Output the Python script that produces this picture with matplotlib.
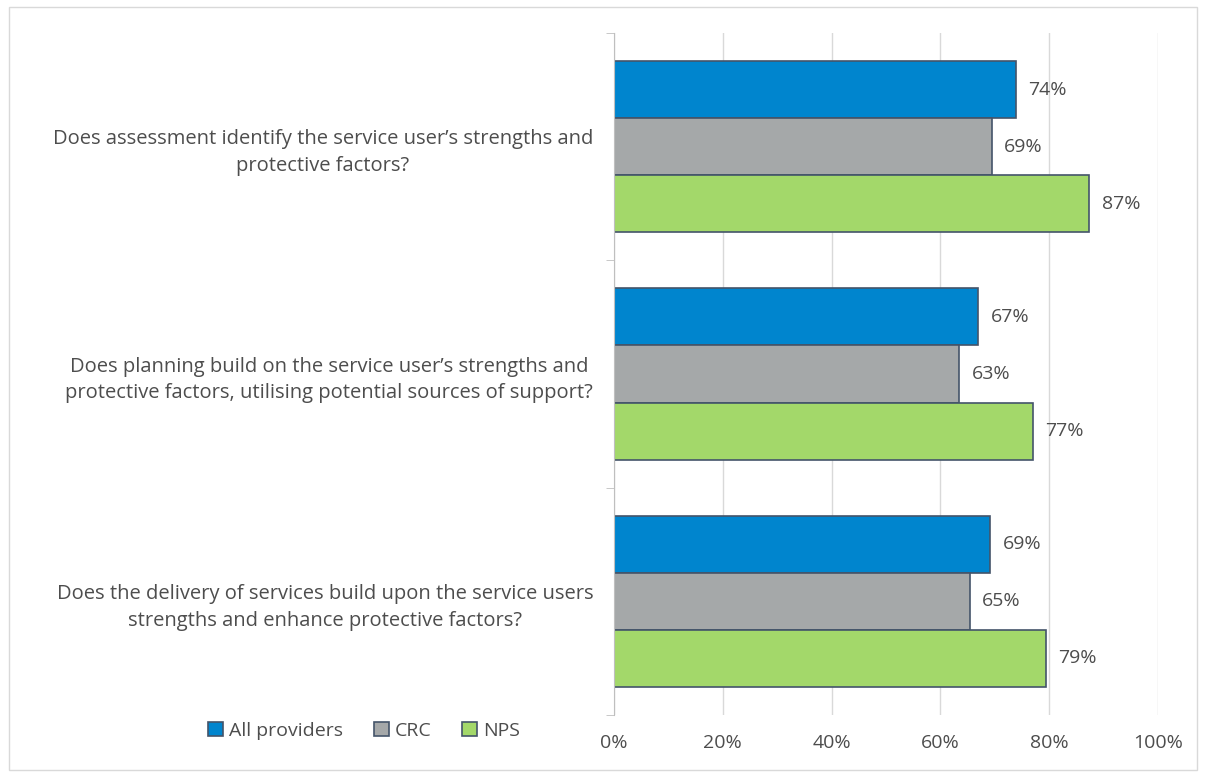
import matplotlib.pyplot as plt
import numpy as np
from matplotlib.patches import Rectangle

plt.rcParams['font.family'] = ['Open Sans', 'DejaVu Sans']

questions = [
    "Does assessment identify the service user\u2019s strengths and\nprotective factors?",
    "Does planning build on the service user\u2019s strengths and\nprotective factors, utilising potential sources of support?",
    "Does the delivery of services build upon the service users\nstrengths and enhance protective factors?",
]
series = ["All providers", "CRC", "NPS"]
all_providers = [73.9, 66.9, 69.1]
crc = [69.4, 63.4, 65.4]
nps = [87.4, 77.0, 79.4]
colors = ["#0085CE", "#A5A8A9", "#A3D86A"]
ticks = [0, 20, 40, 60, 80, 100]

txt = "#4D4D4D"
fs = 14
fig = plt.figure(figsize=(12.06, 7.76), dpi=100)
ax = fig.add_axes([614 / 1206, 1 - 715 / 776, 544 / 1206, 682 / 776])

y = np.arange(len(questions))
h = 0.251
for i, (vals, name) in enumerate(zip([all_providers, crc, nps], series)):
    pos = y + (i - 1) * h
    bars = ax.barh(pos, vals, height=h, color=colors[i], edgecolor="#44546A",
                   linewidth=1.2, label=name, zorder=3)
    for b, v in zip(bars, vals):
        ax.text(v + 2.3, b.get_y() + h / 2, f"{round(v)}%", va="center", ha="left",
                fontsize=fs, color=txt)

ax.set_xlim(0, 100)
ax.set_ylim(2.5, -0.5)
ax.set_xticks(ticks)
ax.set_xticklabels([f"{t}%" for t in ticks], fontsize=fs, color=txt)
ax.set_yticks(y)
ax.set_yticklabels(questions, fontsize=14.5, color=txt, ha="right",
                   multialignment="center", linespacing=1.45)
ax.set_yticks([-0.5, 0.5, 1.5, 2.5], minor=True)
ax.tick_params(axis="y", which="major", length=0, pad=15)
ax.tick_params(axis="y", which="minor", length=6, color="#BFBFBF")
ax.tick_params(axis="x", length=0, pad=14)
ax.grid(axis="x", color="#D9D9D9", linewidth=1, zorder=0)
for s in ["top", "right", "bottom"]:
    ax.spines[s].set_visible(False)
ax.spines["left"].set_color("#BFBFBF")
ax.spines["left"].set_zorder(4)

fig.legend(loc="center", bbox_to_anchor=(364 / 1206, 1 - 731 / 776), ncol=3,
           frameon=False, fontsize=fs, handlelength=0.75, handleheight=0.75,
           handletextpad=0.3, columnspacing=1.6, labelcolor=txt)

fig.patches.append(Rectangle((9 / 1206, 6 / 776), 1188 / 1206, 763 / 776,
                             transform=fig.transFigure, fill=False,
                             edgecolor="#D9D9D9", linewidth=1))

fig.savefig("out.png", dpi=100)
